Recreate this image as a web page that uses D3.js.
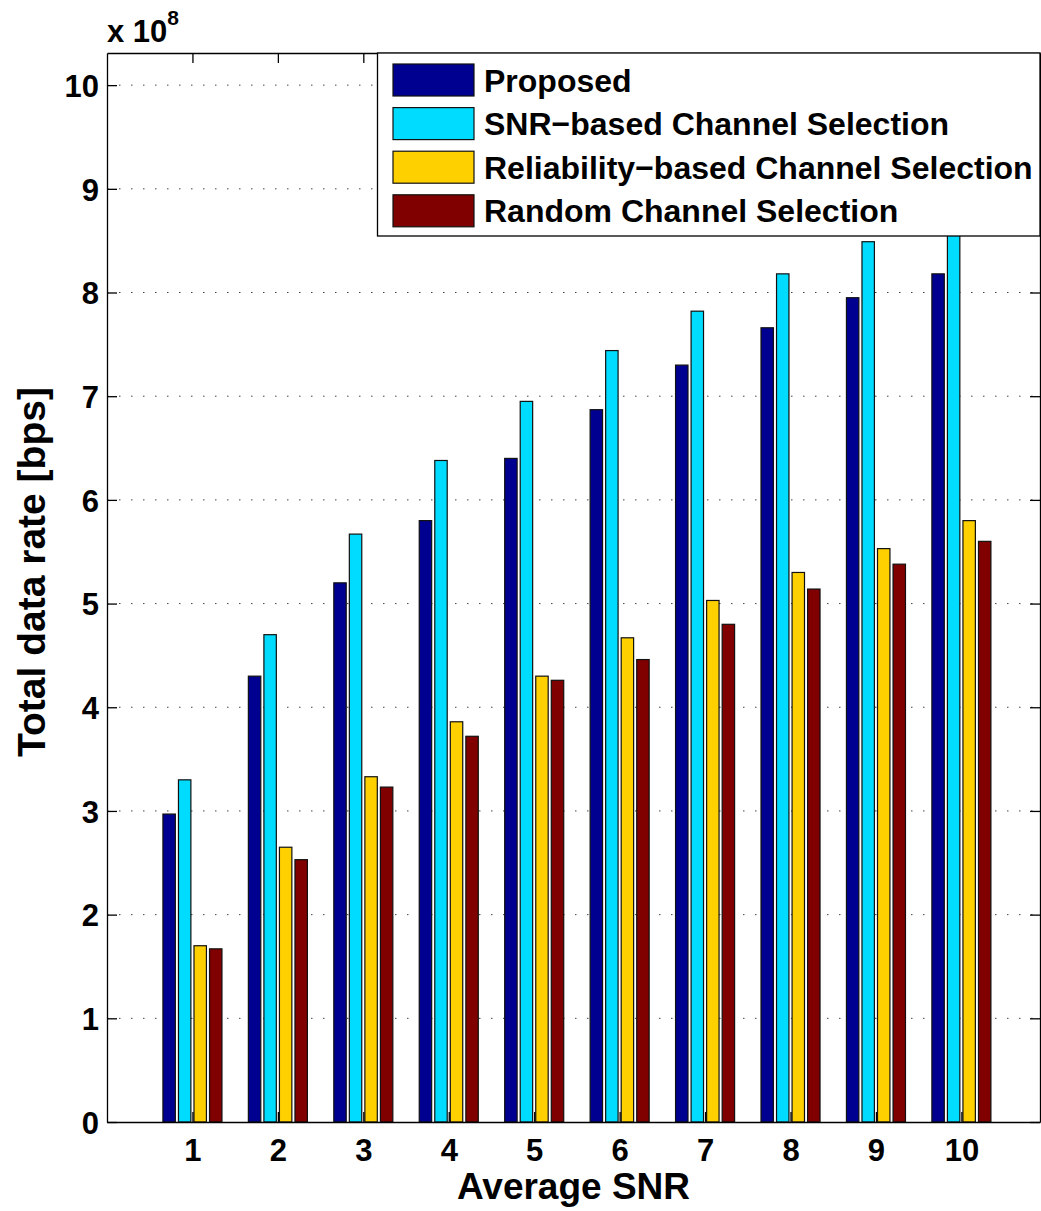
<!DOCTYPE html>
<html>
<head>
<meta charset="utf-8">
<script src="https://cdn.jsdelivr.net/npm/d3@7"></script>
<style>
  body { margin: 0; background: #fff; }
  svg { display: block; font-family: "Liberation Sans", Arial, Helvetica, sans-serif; font-weight: bold; }
</style>
</head>
<body>
<svg id="chart" width="1041" height="1211"></svg>
<script>
// data (units of 1e8 bps)
var snr = [1, 2, 3, 4, 5, 6, 7, 8, 9, 10];
var seriesNames = ['Proposed', 'SNR\u2212based Channel Selection', 'Reliability\u2212based Channel Selection', 'Random Channel Selection'];
var seriesColors = ['#000090', '#00dcff', '#ffd000', '#800000'];
var proposed    = [2.97, 4.30, 5.20, 5.80, 6.40, 6.87, 7.30, 7.66, 7.95, 8.18];
var snrBased    = [3.30, 4.70, 5.67, 6.38, 6.95, 7.44, 7.82, 8.18, 8.49, 8.80];
var reliability = [1.70, 2.65, 3.33, 3.86, 4.30, 4.67, 5.03, 5.30, 5.53, 5.80];
var randomSel   = [1.67, 2.53, 3.23, 3.72, 4.26, 4.46, 4.80, 5.14, 5.38, 5.60];
var yTicks = [0, 1, 2, 3, 4, 5, 6, 7, 8, 9, 10];

var allSeries = [proposed, snrBased, reliability, randomSel];

var svg = d3.select('#chart');
svg.append('rect').attr('width', 1041).attr('height', 1211).attr('fill', '#fff');

var pLeft = 107, pRight = 1040, pTop = 53, pBottom = 1122;

var x = d3.scaleLinear().domain([0, 10.92]).range([pLeft, pRight]);
var y = d3.scaleLinear().domain([0, 10.31]).range([pBottom, pTop]);

// matlab style grouped bars: group width 4/(4+1.5) of a unit
var groupW = (x(1) - x(0)) * 4 / 5.5;
var inner = d3.scaleBand().domain(d3.range(4)).range([-groupW / 2, groupW / 2])
    .paddingInner(0.2).paddingOuter(0.1);

// dotted grid
svg.append('g').selectAll('line').data(yTicks.slice(1)).enter().append('line')
    .attr('x1', pLeft).attr('x2', pRight)
    .attr('y1', function(d) { return y(d); }).attr('y2', function(d) { return y(d); })
    .attr('stroke', '#444').attr('stroke-width', 1).attr('stroke-dasharray', '1.5 10.5');

// bars
allSeries.forEach(function(vals, s) {
    svg.append('g').selectAll('rect').data(vals).enter().append('rect')
        .attr('x', function(d, i) { return x(snr[i]) + inner(s); })
        .attr('y', function(d) { return y(d); })
        .attr('width', inner.bandwidth())
        .attr('height', function(d) { return y(0) - y(d); })
        .attr('fill', seriesColors[s])
        .attr('stroke', '#111').attr('stroke-width', 1.2);
});

// axes: ticks point inward on every side
var axL = svg.append('g').attr('transform', 'translate(' + pLeft + ',0)')
    .call(d3.axisLeft(y).tickValues(yTicks).tickSizeInner(-10).tickSizeOuter(0).tickPadding(8));
var axR = svg.append('g').attr('transform', 'translate(' + pRight + ',0)')
    .call(d3.axisRight(y).tickValues(yTicks).tickSizeInner(-10).tickSizeOuter(0).tickFormat(''));
var axT = svg.append('g').attr('transform', 'translate(0,' + pTop + ')')
    .call(d3.axisTop(x).tickValues(snr).tickSizeInner(-10).tickSizeOuter(0).tickFormat(''));
var axB = svg.append('g').attr('transform', 'translate(0,' + pBottom + ')')
    .call(d3.axisBottom(x).tickValues(snr).tickSizeInner(-10).tickSizeOuter(0));

[axL, axR, axT, axB].forEach(function(a) {
    a.select('.domain').attr('stroke', '#000').attr('stroke-width', 1.3);
    a.selectAll('.tick line').attr('stroke', '#000').attr('stroke-width', 1.3);
    a.selectAll('text').attr('fill', '#000').style('font-size', '31px').style('font-weight', 'bold')
        .attr('font-family', null);
});
axL.selectAll('.tick text').attr('x', -8).attr('dy', '0.36em');
axB.selectAll('.tick text').attr('y', 17).attr('dy', '0.72em');

// multiplier
var mult = svg.append('text').attr('x', pLeft).attr('y', 42).style('font-size', '31px');
mult.append('tspan').text('x 10');
mult.append('tspan').attr('dy', -17).style('font-size', '21px').text('8');

// axis titles
svg.append('text').attr('x', (pLeft + pRight) / 2).attr('y', 1199)
    .attr('text-anchor', 'middle').style('font-size', '37px').text('Average SNR');
svg.append('text').attr('transform', 'translate(45,572) rotate(-90)')
    .attr('text-anchor', 'middle').style('font-size', '39px').text('Total data rate [bps]');

// legend
var lg = svg.append('g');
lg.append('rect').attr('x', 377.5).attr('y', pTop).attr('width', pRight - 377.5).attr('height', 183)
    .attr('fill', '#fff').attr('stroke', '#000').attr('stroke-width', 1.3);
seriesNames.forEach(function(name, s) {
    var cy = 80 + s * 43.6;
    lg.append('rect').attr('x', 393).attr('y', cy - 16).attr('width', 81).attr('height', 32)
        .attr('fill', seriesColors[s]).attr('stroke', '#111').attr('stroke-width', 1.2);
    lg.append('text').attr('x', 484).attr('y', cy).attr('dy', '0.36em')
        .style('font-size', '32px').text(name);
});
</script>
</body>
</html>
